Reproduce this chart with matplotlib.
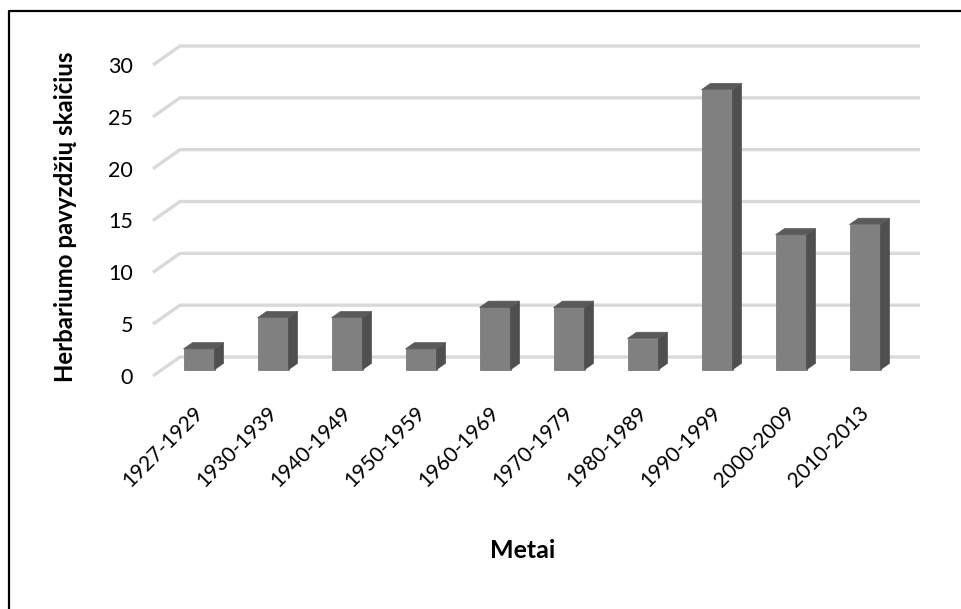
import matplotlib
matplotlib.use("Agg")
import matplotlib.pyplot as plt
from matplotlib.patches import Polygon
from matplotlib.lines import Line2D
from matplotlib.transforms import ScaledTranslation

plt.rcParams["font.family"] = ["Lato", "DejaVu Sans"]

periods = ["1927-1929", "1930-1939", "1940-1949", "1950-1959", "1960-1969",
           "1970-1979", "1980-1989", "1990-1999", "2000-2009", "2010-2013"]
counts = [2, 5, 5, 2, 6, 6, 3, 27, 13, 14]
y_ticks = [0, 5, 10, 15, 20, 25, 30]

W, H = 961, 609
fig = plt.figure(figsize=(W / 100, H / 100), dpi=100)

# front plane of the 3-D box, in pixels
x_left, x_right = 153, 893
y_zero, y_top = 376, 65
ax = fig.add_axes([x_left / W, 1 - y_zero / H,
                   (x_right - x_left) / W, (y_zero - y_top) / H])
ax.set_xlim(-0.5, len(periods) - 0.5)
ax.set_ylim(0, 30)

# depth of the box expressed in data units
DX = 27 / 74
DY = 19 / ((y_zero - y_top) / 30)

grid_col = "#d9d9d9"
for v in y_ticks:
    ax.plot([-0.5, -0.5 + DX, len(periods) - 0.5 + DX], [v, v + DY, v + DY],
            color=grid_col, lw=2.4, solid_capstyle="butt", clip_on=False, zorder=1)

# bars sit in the middle third of the depth
bw = 31 / 74
bx = [i - bw / 2 + DX / 3 for i in range(len(periods))]
by = DY / 3
ax.bar(bx, counts, width=bw, bottom=by, align="edge", color="#808080",
       edgecolor="#7a7a7a", lw=0.6, zorder=3, clip_on=False)
for x0, v in zip(bx, counts):
    top = by + v
    side = Polygon([(x0 + bw, by), (x0 + bw + DX / 3, by + DY / 3),
                    (x0 + bw + DX / 3, top + DY / 3), (x0 + bw, top)],
                   closed=True, facecolor="#4f4f4f", edgecolor="#4f4f4f",
                   lw=0.5, zorder=3, clip_on=False)
    lid = Polygon([(x0, top), (x0 + bw, top), (x0 + bw + DX / 3, top + DY / 3),
                   (x0 + DX / 3, top + DY / 3)],
                  closed=True, facecolor="#5a5a5a", edgecolor="#5a5a5a",
                  lw=0.5, zorder=3, clip_on=False)
    ax.add_patch(side)
    ax.add_patch(lid)

for s in ax.spines.values():
    s.set_visible(False)
ax.set_yticks(y_ticks)
ax.tick_params(axis="y", length=0, pad=14.4, labelsize=15.5, labelcolor="#000000")
ax.set_xticks([])

label_shift = ScaledTranslation(0, -0.38, fig.dpi_scale_trans)
for i, lab in enumerate(periods):
    ax.text(i + 0.19, 0, lab, rotation=45, ha="right", va="baseline",
            rotation_mode="anchor", fontsize=15,
            transform=ax.transData + label_shift)

fig.text(66 / W, 1 - 217 / H, "Herbariumo pavyzdžių skaičius", rotation=90,
         ha="center", va="center", fontsize=17.3, fontweight="bold")
fig.text(523 / W, 1 - 550 / H, "Metai", ha="center", va="center",
         fontsize=18, fontweight="bold")

# chart area outline (left and top edges)
fig.add_artist(Line2D([8.5 / W, 8.5 / W, 1], [0, 1 - 10.5 / H, 1 - 10.5 / H],
                      transform=fig.transFigure, color="black", lw=1.6))

fig.savefig("out.png", dpi=100)
